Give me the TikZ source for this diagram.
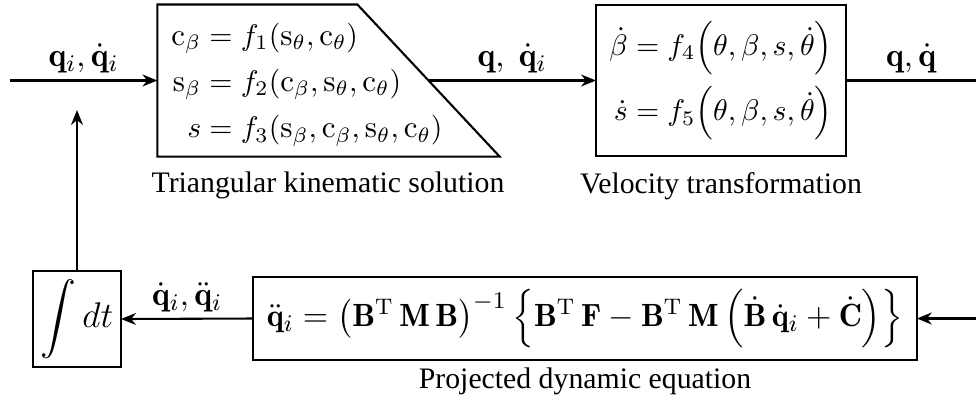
\documentclass[tikz,border=0pt]{standalone}
\usepackage{amsmath}
\usepackage{fontspec}
\newfontfamily\capfont{Liberation Serif}
\usetikzlibrary{calc,arrows.meta}

\tikzset{
  block/.style={draw, line width=0.7pt, inner sep=0pt, outer sep=0pt},
  caption/.style={font=\capfont, inner sep=0pt, anchor=base},
  signal/.style={->, line width=0.7pt},
  lbl/.style={midway, above, inner sep=2pt, font=\fontsize{11.3pt}{13pt}\selectfont},
}

\begin{document}
\begin{tikzpicture}[>={Stealth[length=5pt,width=4pt,inset=1.6pt]}, x=0.336pt, y=-0.336pt]
  \useasboundingbox (0,0) rectangle (976,406);

  % upper row: kinematics
  \node[inner sep=0pt, minimum width=114.6pt, minimum height=50.7pt] (kin) at (328.5,80.5) {};
  \draw[line width=0.7pt] (kin.north west) -- ++(200,0) coordinate (kincut)
    -- (kin.south east) -- (kin.south west) -- cycle;
  \coordinate (kinout) at ($(kincut)!0.5!(kin.south east)$);
  \node[inner sep=0pt, font=\fontsize{10.4pt}{12.5pt}\selectfont] (kineq) at (307,84) {$\begin{aligned}
      \mathrm{c}_\beta &= f_1(\mathrm{s}_\theta,\mathrm{c}_\theta)\\
      \mathrm{s}_\beta &= f_2(\mathrm{c}_\beta,\mathrm{s}_\theta,\mathrm{c}_\theta)\\
      s &= f_3(\mathrm{s}_\beta,\mathrm{c}_\beta,\mathrm{s}_\theta,\mathrm{c}_\theta)
    \end{aligned}$};
  \node[block, minimum width=84pt, minimum height=50.7pt, font=\fontsize{10.4pt}{12.5pt}\selectfont] (vel) at (721,80.5) {$\begin{aligned}
      \dot\beta &= f_4\Bigl(\theta,\beta,s,\dot\theta\Bigr)\\
      \dot s &= f_5\Bigl(\theta,\beta,s,\dot\theta\Bigr)
    \end{aligned}$};
  \node[caption] (kincap) at (328,192) {Triangular kinematic solution};
  \node[caption] (velcap) at (721,193) {Velocity transformation};

  % lower row: dynamics
  \node[block, minimum width=223pt, minimum height=27.9pt, font=\fontsize{10.8pt}{13pt}\selectfont] (dyn) at (585,318.5) {$\ddot{\mathbf{q}}_i = \bigl(\mathbf{B}^{\mathrm{T}}\,\mathbf{M}\,\mathbf{B}\bigr)^{-1}\,\Bigl\{\mathbf{B}^{\mathrm{T}}\,\mathbf{F}-\mathbf{B}^{\mathrm{T}}\,\mathbf{M}\,\Bigl(\dot{\mathbf{B}}\,\dot{\mathbf{q}}_i+\dot{\mathbf{C}}\Bigr)\Bigr\}$};
  \node[block, minimum width=29.6pt, minimum height=32.3pt, font=\fontsize{11.5pt}{14pt}\selectfont] (integ) at (77,319) {$\displaystyle\int dt$};
  \node[caption] (dyncap) at (585,388) {Projected dynamic equation};

  % free ends
  \coordinate (in) at (10,80.5);
  \coordinate (out) at (976,80.5);
  \coordinate (fin) at (976,318.5);
  \coordinate (fb) at (77,110);

  % signals
  \draw[signal] (in) -- (kin.west) node[lbl] {$\mathbf{q}_i,\dot{\mathbf{q}}_i$};
  \draw[signal] (kinout) -- (vel.west) node[lbl] {$\mathbf{q},\;\dot{\mathbf{q}}_i$};
  \draw[line width=0.7pt] (vel.east) -- (out) node[lbl] {$\mathbf{q},\dot{\mathbf{q}}$};
  \draw[signal] (fin) -- (dyn.east);
  \draw[signal] (dyn.west) -- (integ.east) node[lbl] {$\dot{\mathbf{q}}_i,\ddot{\mathbf{q}}_i$};
  \draw[signal] (integ.north) -- (fb);
\end{tikzpicture}
\end{document}
